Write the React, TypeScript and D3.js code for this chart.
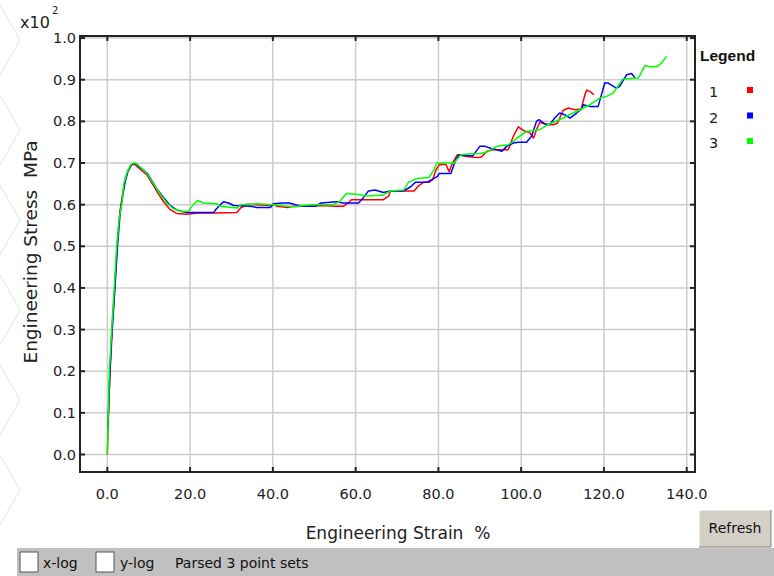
import React from "react";
import * as d3 from "d3";

const seriesNames = ["1", "2", "3"];
const seriesColors = ["#ff0000", "#0000ff", "#00ff00"];

const strain1 = [0,0.25,0.55,1.1,1.75,2.35,3.0,3.6,4.2,4.9,5.8,6.6,7.6,9.5,11.2,12.4,13.6,15.2,16.8,19.2,22,26,31.3,32.2,33.8,36,39.4,40.2,41,43.5,45,47,50,52,55,57,58.2,59,62,66.7,68,68.4,72.4,74.1,75.3,76.5,77.8,78.6,79.4,80.2,81.8,82.6,83.4,84.6,86.5,89.1,90.3,91.7,93.3,96.9,98.1,99.3,100.9,102,103,103.7,104.5,106,107.8,108.8,110.1,111.4,113,114.5,115.4,115.8,116.6,117.6];
const stress1 = [0,0.08,0.18,0.3,0.4,0.5,0.58,0.62,0.655,0.68,0.695,0.697,0.688,0.672,0.645,0.625,0.607,0.588,0.579,0.577,0.58,0.58,0.581,0.592,0.601,0.6,0.598,0.602,0.596,0.593,0.596,0.596,0.596,0.598,0.596,0.596,0.604,0.612,0.612,0.612,0.621,0.633,0.633,0.633,0.646,0.654,0.654,0.66,0.683,0.696,0.697,0.679,0.7,0.72,0.716,0.713,0.714,0.728,0.732,0.732,0.764,0.787,0.776,0.774,0.76,0.78,0.798,0.793,0.792,0.796,0.826,0.832,0.828,0.83,0.864,0.875,0.872,0.864];

const strain2 = [0.1,0.35,0.65,1.2,1.85,2.45,3.1,3.7,4.3,5.0,5.9,6.8,7.8,9.6,12,13.6,15.2,16.8,18.8,20,25.7,26.1,27.3,28.1,29.3,30.5,34.6,36.2,39.4,40.2,42.3,44,45.5,47.2,50.1,51.7,55.4,57,60.7,61.9,63.1,64.7,66.7,68.4,71.6,73.3,74.5,77.3,79.8,80.2,83,84.2,85,86.5,88.3,90,91.3,92.4,94.1,95.3,96.5,98.1,99.3,101.3,102.5,103.7,104.3,105.7,106.9,108.1,109.3,110.5,111.8,113.4,114.6,115,116.6,118.6,120.2,121,123,123.8,125.5,126.7,127.5];
const stress2 = [0.06,0.12,0.2,0.3,0.4,0.5,0.58,0.62,0.655,0.68,0.697,0.699,0.69,0.676,0.637,0.617,0.598,0.587,0.582,0.581,0.581,0.587,0.6,0.607,0.604,0.598,0.596,0.593,0.593,0.602,0.604,0.604,0.6,0.596,0.596,0.604,0.607,0.604,0.604,0.617,0.633,0.635,0.629,0.633,0.633,0.643,0.654,0.654,0.668,0.675,0.675,0.708,0.72,0.718,0.717,0.74,0.74,0.736,0.732,0.728,0.74,0.748,0.75,0.75,0.764,0.8,0.804,0.794,0.792,0.808,0.82,0.816,0.808,0.82,0.83,0.84,0.836,0.836,0.892,0.892,0.88,0.884,0.912,0.915,0.904];

const strain3 = [0,0.24,0.48,1.06,1.69,2.27,2.9,3.48,4.0,4.7,5.65,6.4,7.1,8.2,9.5,11.2,12.8,14.4,16,18,19.6,20.8,21.8,23.3,26.5,27.3,31.4,32.2,36.2,40.2,43.5,45,48.9,54.6,56.2,57.8,60.2,62.7,66.7,68.4,71.6,72.8,74.9,77.7,78.9,79.6,83.8,85.4,88,90.3,91.9,94.1,96.9,98.1,99.3,101.3,104.5,106.1,110.1,114.2,116.6,119,120.6,122.2,124.6,128.3,129.9,131.1,132.7,133.9,135.1];
const stress3 = [0,0.1,0.2,0.3,0.4,0.5,0.57,0.6,0.65,0.675,0.696,0.7,0.698,0.688,0.675,0.65,0.625,0.604,0.59,0.583,0.585,0.6,0.61,0.604,0.602,0.596,0.592,0.6,0.602,0.6,0.596,0.595,0.6,0.6,0.608,0.627,0.625,0.621,0.623,0.633,0.635,0.654,0.663,0.665,0.683,0.7,0.7,0.72,0.722,0.723,0.727,0.74,0.744,0.752,0.762,0.776,0.78,0.79,0.808,0.828,0.84,0.856,0.86,0.868,0.902,0.904,0.934,0.931,0.931,0.94,0.956];

const xTicks = [0, 20, 40, 60, 80, 100, 120, 140];
const yTicks = [0, 0.1, 0.2, 0.3, 0.4, 0.5, 0.6, 0.7, 0.8, 0.9, 1.0];
const xTitle = "Engineering Strain\u00a0\u00a0%";
const yTitle = "Engineering Stress\u00a0\u00a0MPa";

const L = 80, R = 695, T = 36, B = 472;
const FONT = "DejaVu Sans, sans-serif";

export default function App() {
  const x = d3.scaleLinear().domain([-6.6, 142]).range([L, R]);
  const y = d3.scaleLinear().domain([-0.042, 1.005]).range([B, T]);
  const line = d3.line<[number, number]>().x(d => x(d[0])).y(d => y(d[1]));
  const series = [
    d3.zip(strain1, stress1) as [number, number][],
    d3.zip(strain2, stress2) as [number, number][],
    d3.zip(strain3, stress3) as [number, number][],
  ];
  const chevrons = [40, 130, 220, 310, 400, 490];
  return (
    <svg width={774} height={576} style={{ position: "absolute", left: 0, top: 0, background: "#fff" }}>
      {chevrons.map((c, i) => (
        <polyline key={"c" + i} points={`0,${c - 35} 20,${c} 0,${c + 35}`} fill="none" stroke="#e8edf2" strokeWidth={1.5} />
      ))}
      {xTicks.map(t => (
        <line key={"gx" + t} x1={x(t)} x2={x(t)} y1={T} y2={B} stroke="#cccccc" strokeWidth={1.5} />
      ))}
      {yTicks.map(t => (
        <line key={"gy" + t} x1={L} x2={R} y1={y(t)} y2={y(t)} stroke="#cccccc" strokeWidth={1.5} />
      ))}
      {series.map((s, i) => (
        <path key={"s" + i} d={line(s) || ""} fill="none" stroke={seriesColors[i]} strokeWidth={1.5} strokeLinejoin="round" />
      ))}
      <rect x={L} y={T} width={R - L} height={B - T} fill="none" stroke="#222" strokeWidth={2} />
      {xTicks.map(t => (
        <g key={"tx" + t}>
          <line x1={x(t)} x2={x(t)} y1={B} y2={B - 5} stroke="#222" strokeWidth={2} />
          <line x1={x(t)} x2={x(t)} y1={T} y2={T + 5} stroke="#222" strokeWidth={2} />
          <text x={x(t)} y={499} textAnchor="middle" fontFamily={FONT} fontSize={14.5} fill="#222">{t.toFixed(1)}</text>
        </g>
      ))}
      {yTicks.map(t => (
        <g key={"ty" + t}>
          <line x1={L} x2={L + 5} y1={y(t)} y2={y(t)} stroke="#222" strokeWidth={2} />
          <line x1={R} x2={R - 5} y1={y(t)} y2={y(t)} stroke="#222" strokeWidth={2} />
          <text x={76} y={y(t) + 5} textAnchor="end" fontFamily={FONT} fontSize={14.5} fill="#222">{t.toFixed(1)}</text>
        </g>
      ))}
      <text x={20} y={28} fontFamily={FONT} fontSize={16} fill="#222">x10</text>
      <text x={52} y={14} fontFamily={FONT} fontSize={10} fill="#222">2</text>
      <text x={398} y={539} textAnchor="middle" fontFamily={FONT} fontSize={17} fill="#222">{xTitle}</text>
      <text transform="translate(37,252) rotate(-90)" textAnchor="middle" fontFamily={FONT} fontSize={18.5} fill="#222">{yTitle}</text>
      <text x={700} y={61} fontFamily="Liberation Sans, Arial, sans-serif" fontWeight="bold" fontSize={15.5} fill="#111">Legend</text>
      {seriesNames.map((n, i) => (
        <g key={"l" + n}>
          <text x={709} y={97 + i * 25.5} fontFamily={FONT} fontSize={14.5} fill="#222">{n}</text>
          <rect x={747} y={87 + i * 25.5} width={6} height={6} fill={seriesColors[i]} />
        </g>
      ))}
      <rect x={699} y={510} width={72} height={37} fill="#d4d0c8" />
      <path d="M699,547 L699,510 L771,510" fill="none" stroke="#ffffff" strokeWidth={1} />
      <path d="M699,547 L771,547 L771,510" fill="none" stroke="#808080" strokeWidth={1} />
      <text x={735} y={533} textAnchor="middle" fontFamily={FONT} fontSize={14} fill="#111">Refresh</text>
      <rect x={17} y={548} width={757} height={28} fill="#c0c0c0" />
      <rect x={20} y={552} width={18} height={20} fill="#fff" stroke="#555" strokeWidth={1} />
      <text x={43} y={568} fontFamily={FONT} fontSize={14} fill="#111">x-log</text>
      <rect x={96} y={552} width={18} height={20} fill="#fff" stroke="#555" strokeWidth={1} />
      <text x={120} y={568} fontFamily={FONT} fontSize={14} fill="#111">y-log</text>
      <text x={175} y={568} fontFamily={FONT} fontSize={14} fill="#111">Parsed 3 point sets</text>
    </svg>
  );
}
